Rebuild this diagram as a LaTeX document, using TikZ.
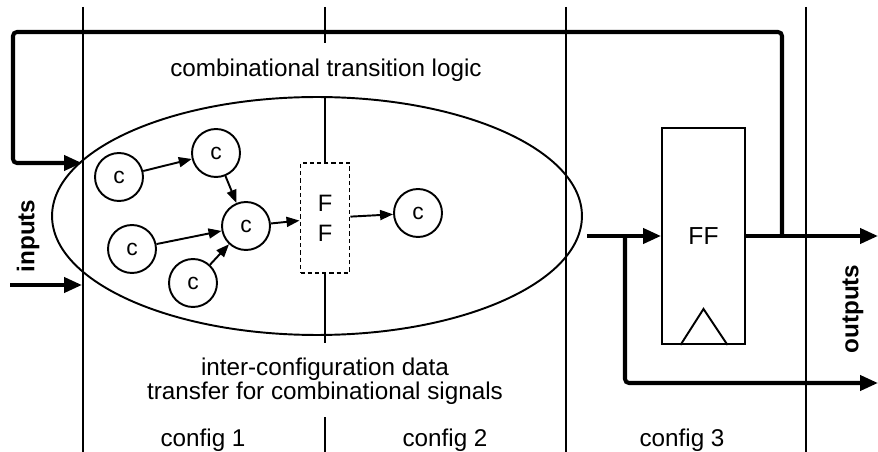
\documentclass[tikz,border=0pt]{standalone}
\usepackage{fontspec}
\setmainfont{Liberation Sans}
\usetikzlibrary{arrows.meta}
\newcommand\notefont{\fontsize{13.8}{16}\selectfont}
\newcommand\gatefont{\fontsize{13}{15}\selectfont}
\newcommand\fffont{\fontsize{13.5}{17}\selectfont}
\newcommand\regfont{\fontsize{14}{16}\selectfont}
\newcommand\portfont{\fontsize{13.8}{16}\selectfont\bfseries}

\begin{document}
\begin{tikzpicture}[x=0.02cm,y=-0.02cm,
  gate/.style={circle,draw,line width=1.1pt,minimum size=0.96cm,inner sep=0pt,font=\gatefont},
  ffdash/.style={draw,dash pattern=on 2.4pt off 1.7pt,line width=1.1pt,minimum width=0.98cm,minimum height=2.2cm,align=center,inner sep=0pt,font=\fffont},
  ffreg/.style={draw,line width=1.1pt,minimum width=1.66cm,minimum height=4.32cm,inner sep=0pt,font=\regfont},
  note/.style={anchor=base,inner sep=0pt,font=\notefont},
  port/.style={rotate=90,inner sep=0pt,font=\portfont},
  divider/.style={line width=1.1pt},
  wire/.style={line width=1.1pt,-{Triangle[length=0.26cm,width=0.2cm]}},
  bus/.style={line width=2.3pt,rounded corners=0.08cm},
  busarrow/.style={bus,-{Triangle[length=0.36cm,width=0.3cm]}}]
\useasboundingbox (0,0) rectangle (878,452);
\path node[gate] (c1) at (119,177) {c}
node[gate] (c2) at (216,153) {c}
node[gate] (c3) at (246,226) {c}
node[gate] (c4) at (132,249) {c}
node[gate] (c5) at (193,283) {c}
node[ffdash] (ffa) at (325,218) {F\\F}
node[gate] (c6) at (418,213) {c}
node[ffreg] (ffb) at (703.5,236) {FF}
node[note] (title) at (326,77) {combinational transition logic}
node[note] (xfer1) at (325,375) {inter-configuration data}
node[note] (xfer2) at (325,399) {transfer for combinational signals}
node[note] (cfg1) at (203,446) {config 1}
node[note] (cfg2) at (445,446) {config 2}
node[note] (cfg3) at (682,446) {config 3}
node[port] (inputs) at (28,236) {inputs}
node[port] (outputs) at (853,309) {outputs}
coordinate (inA) at (10,285)
coordinate (inB) at (82,285)
coordinate (fbtap) at (782,236)
coordinate (fbcorner) at (13,32)
coordinate (fbin) at (82,163)
coordinate (din) at (587,236)
coordinate (split) at (625,236)
coordinate (out1) at (878,236)
coordinate (out2) at (878,383)
;
\draw[divider] (83,7) -- (83,452);
\draw[divider] (566,7) -- (566,452);
\draw[divider] (806,7) -- (806,452);
\draw[divider] (325,7) -- (325,43);
\draw[divider] (325,97) -- (ffa.north);
\draw[divider] (ffa.south) -- (325,343);
\draw[divider] (325,417) -- (325,452);
\draw[line width=1.1pt] (317,216) ellipse [x radius=5.3cm,y radius=2.38cm];
\draw[line width=1.1pt] ([xshift=-0.46cm]ffb.south) -- ([yshift=0.72cm]ffb.south) -- ([xshift=0.48cm]ffb.south);
\draw[wire] (c1) -- (c2);
\draw[wire] (c2) -- (c3);
\draw[wire] (c4) -- (c3);
\draw[wire] (c5) -- (c3);
\draw[wire] (c3) -- (ffa);
\draw[wire] (ffa) -- (c6);
\draw[busarrow] (inA) -- (inB);
\draw[busarrow] (fbtap) |- (fbcorner) |- (fbin);
\draw[busarrow] (din) -- (ffb.west);
\draw[busarrow] (split) |- (out2);
\draw[busarrow] (ffb.east) -- (out1);
\end{tikzpicture}
\end{document}
